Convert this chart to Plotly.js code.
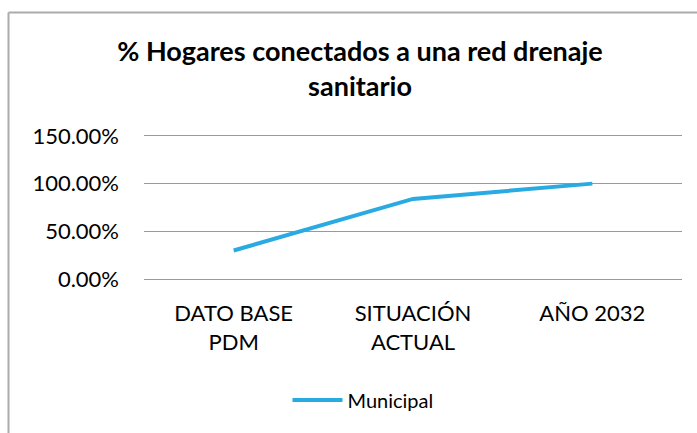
<!DOCTYPE html>
<html>
<head>
<meta charset="utf-8">
<script src="https://cdn.plot.ly/plotly-3.0.1.min.js"></script>
<style>html,body{margin:0;padding:0;background:#fff;}#chart{width:697px;height:433px;}</style>
</head>
<body>
<div id="chart"></div>
<script>
var categories = ["DATO BASE<br>PDM", "SITUACIÓN<br>ACTUAL", "AÑO 2032"];
var municipal = [30, 84, 100];
var yTicks = [0, 50, 100, 150];
var seriesName = "Municipal";
var titleText = "% Hogares conectados a una red drenaje<br>sanitario";

var font = "Lato, 'Open Sans', sans-serif";
var yTickText = yTicks.map(function (v) { return v.toFixed(2) + "%"; });

var trace = {
  x: categories,
  y: municipal,
  type: "scatter",
  mode: "lines",
  name: seriesName,
  line: {color: "#29ABE2", width: 4},
  hoverinfo: "skip"
};

var plotTop = 133, plotBottom = 282; // pixel rows
var ph = plotBottom - plotTop;
function py(pix) { return (plotBottom - pix) / ph; }
function px(pix) { return (pix - 144) / 538; }

var layout = {
  width: 697,
  height: 433,
  paper_bgcolor: "#ffffff",
  plot_bgcolor: "#ffffff",
  margin: {l: 144, r: 15, t: plotTop, b: 433 - plotBottom},
  font: {family: font, size: 20, color: "#000000"},
  title: {
    text: titleText,
    font: {family: font, size: 27, color: "#000000", weight: "bold"},
    x: 0.5165, xref: "container", xanchor: "center",
    y: 1 - 61/433, yref: "container", yanchor: "top"
  },
  xaxis: {
    type: "category",
    range: [-0.5, 2.5],
    showgrid: false,
    zeroline: false,
    showline: false,
    ticks: "",
    ticklabelstandoff: 16,
    tickfont: {family: font, size: 22, color: "#000000"},
    fixedrange: true
  },
  yaxis: {
    range: [-3, 153],
    tickvals: yTicks,
    ticktext: yTickText,
    showgrid: true,
    gridcolor: "#999999",
    gridwidth: 1,
    zeroline: false,
    showline: false,
    ticks: "",
    ticklabelstandoff: 24,
    tickfont: {family: font, size: 22, color: "#000000"},
    fixedrange: true
  },
  showlegend: true,
  legend: {
    orientation: "h",
    x: px(363), xanchor: "center",
    y: py(400), yanchor: "middle",
    font: {family: font, size: 20, color: "#000000"},
    itemwidth: 50,
    bgcolor: "rgba(0,0,0,0)"
  },
  shapes: [
    {type: "line", xref: "paper", yref: "paper",
     x0: px(8.5), x1: px(700),
     y0: py(12.5), y1: py(12.5),
     line: {color: "#ababab", width: 2}},
    {type: "line", xref: "paper", yref: "paper",
     x0: px(8.5), x1: px(8.5),
     y0: py(12.5), y1: py(436),
     line: {color: "#ababab", width: 2}}
  ]
};

Plotly.newPlot("chart", [trace], layout, {displayModeBar: false, staticPlot: true});
</script>
</body>
</html>
